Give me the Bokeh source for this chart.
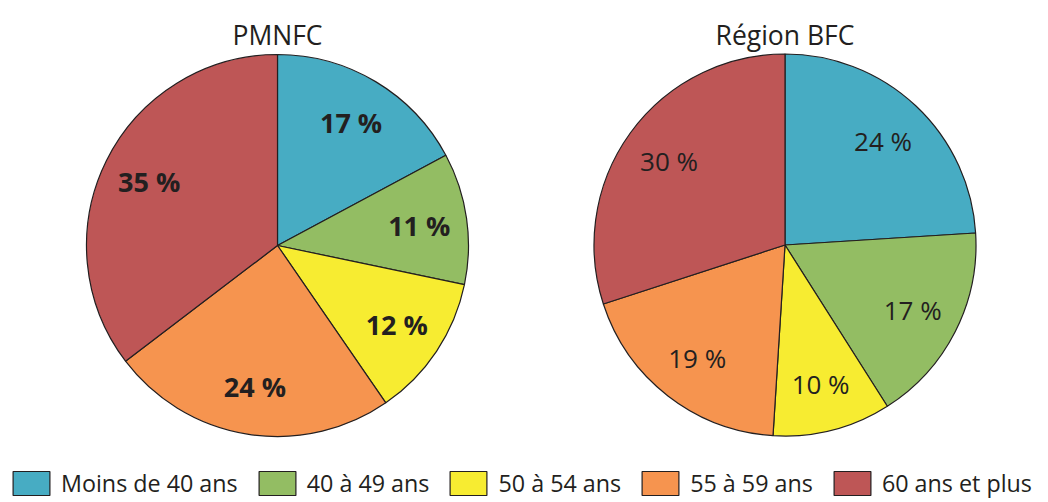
import numpy as np
from bokeh.plotting import figure
from bokeh.models import ColumnDataSource, Range1d, Legend, LegendItem
from bokeh.core.properties import value
from bokeh.embed import file_html
from bokeh.resources import INLINE

categories = ["Moins de 40 ans", "40 à 49 ans", "50 à 54 ans", "55 à 59 ans", "60 ans et plus"]
colors = ["#47ACC3", "#93BD63", "#F7EC31", "#F6944F", "#BE5656"]
pie_titles = ["PMNFC", "Région BFC"]
pmnfc_values = [17, 11, 12, 24, 35]
bfc_values = [24, 17, 10, 19, 30]

TEXT = "#231F20"
FONT = "Open Sans"

W, H = 1048, 502
# data units = screen pixels; y measured upward from page bottom
p = figure(width=W, height=H, x_range=Range1d(0, W), y_range=Range1d(0, H),
           output_backend="svg", toolbar_location=None, min_border=0)
p.axis.visible = False
p.grid.visible = False
p.outline_line_color = None

R = 191
centers = [(277, H - 245), (784.5, H - 244.5)]
label_frac = 0.75

renderers = []
for (cx, cy), vals, title, bold in zip(centers, [pmnfc_values, bfc_values], pie_titles, [True, False]):
    v = np.array(vals, dtype=float)
    frac = v / v.sum()
    cum = np.concatenate([[0.0], np.cumsum(frac)])
    start = np.pi / 2 - 2 * np.pi * cum[:-1]
    end = np.pi / 2 - 2 * np.pi * cum[1:]
    mid = (cum[:-1] + cum[1:]) / 2 * 2 * np.pi
    src = ColumnDataSource(dict(
        x=[cx] * len(v), y=[cy] * len(v), start=start, end=end, color=colors,
        lx=cx + R * label_frac * np.sin(mid), ly=cy + R * label_frac * np.cos(mid),
        label=[f"{int(a)} %" for a in vals],
    ))
    r = p.wedge(x="x", y="y", radius=R, start_angle="start", end_angle="end", direction="clock",
                fill_color="color", line_color=TEXT, line_width=1.2, source=src)
    renderers.append(r)
    p.text(x="lx", y="ly", text="label", source=src, text_align="center", text_baseline="middle",
           text_font=value(FONT), text_font_size="27px" if bold else "26px", text_color=TEXT,
           text_font_style="bold" if bold else "normal")
    p.text(x=[cx], y=[H - 34], text=[title], text_align="center", text_baseline="alphabetic",
           text_font=value(FONT), text_font_size="26.5px", text_color=TEXT)

items = [LegendItem(label=c, renderers=[renderers[0]], index=i) for i, c in enumerate(categories)]
legend = Legend(items=items, orientation="horizontal", location=(8, 3),
                glyph_width=46, glyph_height=30, label_standoff=7, spacing=16,
                padding=0, margin=0, border_line_color=None, background_fill_alpha=0,
                label_text_font=FONT, label_text_font_size="23.3px", label_text_color=TEXT)
p.add_layout(legend)

open("out.html", "w").write(file_html(p, INLINE))
